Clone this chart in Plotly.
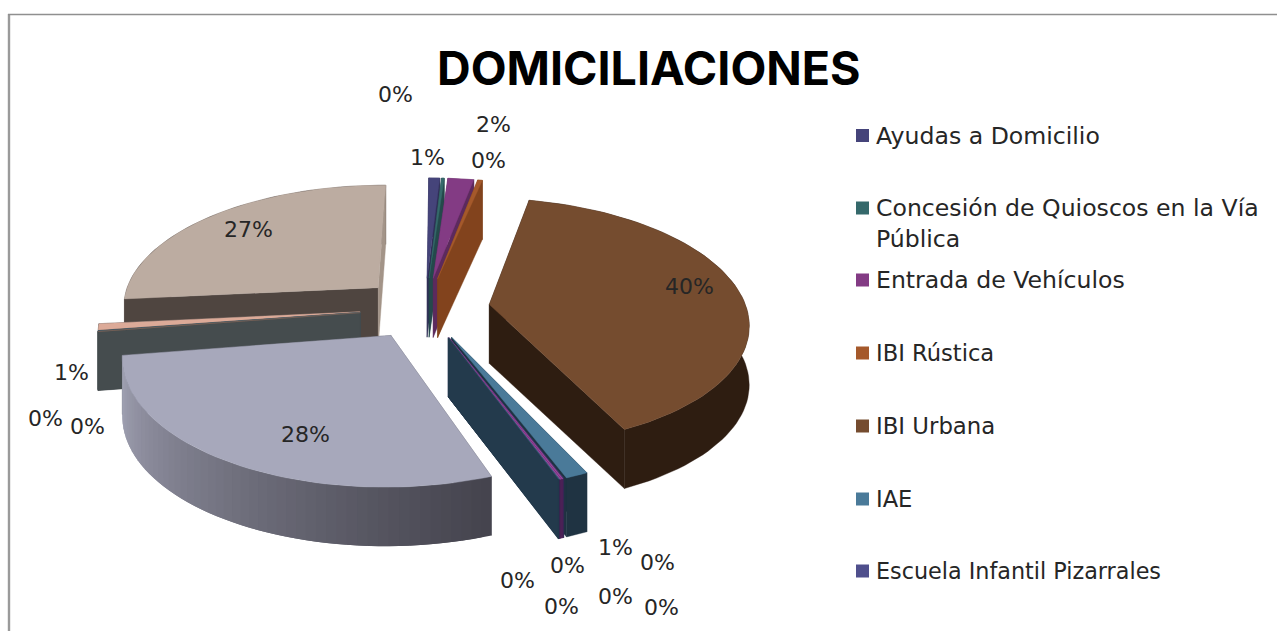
import math
import plotly.graph_objects as go

# ---------- data ----------
CATEGORIES = ["Ayudas a Domicilio", "Concesión de Quioscos en la Vía Pública", "Entrada de Vehículos",
              "IBI Rústica", "IBI Urbana", "IAE", "Escuela Infantil Pizarrales",
              "Otro 8", "Otro 9", "Otro 10", "Otro 11", "Otro 12", "Otro 13",
              "Otro 14", "Otro 15", "Otro 16", "Otro 17"]
VALUES = [0.8, 0.2, 1.9, 0.35, 39.6, 1.2, 0.03, 0.08, 0.08, 0.03, 0.02, 0.02,
          28.25, 0.04, 0.04, 0.8, 26.7]
LEGEND_NAMES = ["Ayudas a Domicilio", "Concesión de Quioscos en la Vía<br>Pública", "Entrada de Vehículos",
                "IBI Rústica", "IBI Urbana", "IAE", "Escuela Infantil Pizarrales"]

# ---------- styles ----------
TOP = ["#45447a", "#35696b", "#833b84", "#a5592b", "#754c2f", "#4a7a99", "#45447a",
       "#9c4a9f", "#9c4a9f", "#4a7a99", "#4a7a99", "#2a4558",
       "#a7a8bb", "#8a6a5a", "#4a7a99", "#dcaa98", "#bcaca1"]
WALL = ["#2f2e55", "#24494b", "#5c2a5d", "#82431d", "#2e1d11", "#1f3342", "#2f2e55",
        "#4d2358", "#4d2358", "#4d2358", "#233a4c", "#233a4c",
        "#5a5a68", "#454c4e", "#454c4e", "#454c4e", "#4f4540"]
END_WALL_OVERRIDE = {16: "#a39488"}
LEGEND_COLORS = ["#45447a", "#35696b", "#833b84", "#a5592b", "#754c2f", "#4a7a99", "#4f4f8c"]
LEGEND_SIZES = [23.6, 23.6, 23.6, 22.6, 22.8, 22.6, 22.3]
LABEL_XY = [(427, 157), (395, 94), (493, 124), (488, 160), (689, 286), (615, 547), (657, 562),
            (661, 607), (615, 596), (561, 606), (567, 565), (517, 580), (305, 434),
            (87, 426), (45, 418), (71, 372), (248, 229)]
LEGEND_Y = [135.5, 208, 280, 353, 426, 499, 571]
FONT = "'DejaVu Sans', sans-serif"
TITLE_FONT = "Inter, sans-serif"
TEXT = "#262626"

# ---------- projection ----------
CX, CY, R, EXPL, F, K, H = 425, 308, 257, 65, 0.475, 0.14, 59
START = 0.5


def proj(X, Z, drop=0.0):
    s = 1 / (1 + K * Z / R)
    return CX + X * s, CY - F * Z * s + drop


def rim(off, deg, drop=0.0):
    a = math.radians(deg)
    return proj(off[0] + R * math.sin(a), off[1] + R * math.cos(a), drop)


def mix(c1, c2, t):
    a = [int(c1[i:i + 2], 16) for i in (1, 3, 5)]
    b = [int(c2[i:i + 2], 16) for i in (1, 3, 5)]
    return "#%02x%02x%02x" % tuple(round(a[i] + (b[i] - a[i]) * t) for i in range(3))


fig = go.Figure()


def poly(points, color, name, lw=0.4):
    xs = [p[0] for p in points] + [points[0][0]]
    ys = [p[1] for p in points] + [points[0][1]]
    fig.add_trace(go.Scatter(x=xs, y=ys, mode="lines", fill="toself", fillcolor=color,
                             line=dict(color=color, width=lw), name=name,
                             hoverinfo="name", showlegend=False))


total = sum(VALUES)
slices = []
ang = START
for i, v in enumerate(VALUES):
    a0, a1 = ang, ang + v / total * 360
    ang = a1
    m = math.radians((a0 + a1) / 2)
    off = (EXPL * math.sin(m), EXPL * math.cos(m))
    slices.append((off[1], i, a0, a1, off))

for _, i, a0, a1, off in sorted(slices, key=lambda s: -s[0]):
    name = CATEGORIES[i]
    steps = max(2, int((a1 - a0) / 2) + 2)
    arc = [a0 + (a1 - a0) * j / steps for j in range(steps + 1)]
    apex = proj(off[0], off[1])
    apex_d = proj(off[0], off[1], H)
    start_wall = ([apex, rim(off, a0), rim(off, a0, H), apex_d], WALL[i])
    end_wall = ([apex, rim(off, a1), rim(off, a1, H), apex_d], END_WALL_OVERRIDE.get(i, WALL[i]))
    start_front = math.sin(math.radians(a0)) < 0
    end_front = math.sin(math.radians(a1)) > 0
    # radial walls turned away from the viewer go behind the outer wall
    if not start_front:
        poly(*start_wall, name)
    if not end_front:
        poly(*end_wall, name)
    # outer wall
    if i == 12:  # shaded outer wall of the large slice, drawn so that neighbours overlap
        for j in range(steps):
            t = (arc[j] - a0) / (a1 - a0)
            col = mix("#45444e", "#a5a6b8", t ** 1.1)
            end = arc[min(j + 2, steps)]
            seg = [arc[j] + (end - arc[j]) * q / 3 for q in range(4)]
            poly([rim(off, a) for a in seg] + [rim(off, a, H) for a in reversed(seg)], col, name, 0)
    else:
        poly([rim(off, a) for a in arc] + [rim(off, a, H) for a in reversed(arc)], WALL[i], name)
    # radial walls turned towards the viewer
    if start_front:
        poly(*start_wall, name)
    if end_front:
        poly(*end_wall, name)
    # top face
    poly([apex] + [rim(off, a) for a in arc], TOP[i], name)

# legend keys
fig.add_trace(go.Scatter(x=[862.5] * len(LEGEND_Y), y=LEGEND_Y, mode="markers",
                         marker=dict(symbol="square", size=13, color=LEGEND_COLORS, line=dict(width=0)),
                         hoverinfo="skip", showlegend=False))

anns = []
for (x, y), v in zip(LABEL_XY, VALUES):
    anns.append(dict(x=x, y=y, text=f"{round(v / total * 100)}%", showarrow=False, xref="x", yref="y",
                     font=dict(family=FONT, size=22, color=TEXT), xanchor="center", yanchor="middle"))
for name, y, size in zip(LEGEND_NAMES, LEGEND_Y, LEGEND_SIZES):
    yy = y + 15 if "<br>" in name else y
    anns.append(dict(x=873.5, y=yy, text=name, showarrow=False, xref="x", yref="y", align="left",
                     font=dict(family=FONT, size=size, color=TEXT), xanchor="left", yanchor="middle"))
anns.append(dict(x=649, y=68, text="<b>DOMICILIACIONES</b>", showarrow=False, xref="x", yref="y",
                 font=dict(family=TITLE_FONT, size=46.6, color="#000000"), xanchor="center", yanchor="middle"))

fig.update_layout(
    width=1277, height=631, margin=dict(l=0, r=0, t=0, b=0), showlegend=False,
    paper_bgcolor="white", plot_bgcolor="white", annotations=anns,
    xaxis=dict(range=[0, 1277], visible=False, fixedrange=True),
    yaxis=dict(range=[631, 0], visible=False, fixedrange=True),
    shapes=[
        dict(type="line", x0=9, x1=9, y0=14, y1=631, xref="x", yref="y", line=dict(color="#9a9a9a", width=2.4)),
        dict(type="line", x0=8, x1=1277, y0=14.5, y1=14.5, xref="x", yref="y", line=dict(color="#8f8f8f", width=1.5)),
    ],
)
fig.write_html("out.html", config=dict(displayModeBar=False),
               post_script="document.body.style.margin='0';document.body.style.overflow='hidden';")
